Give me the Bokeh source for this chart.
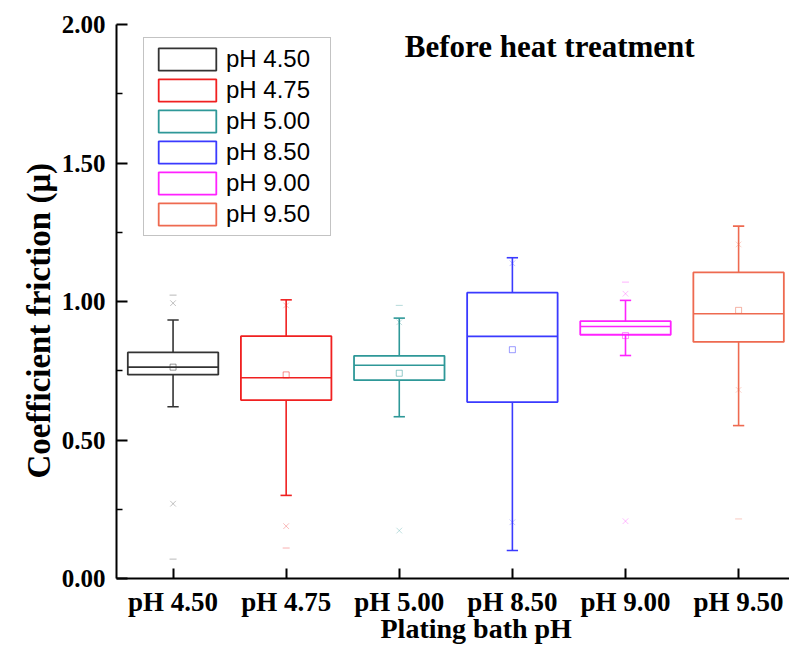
import math
from bokeh.plotting import figure
from bokeh.models import Legend, LegendItem, Label, Range1d, FixedTicker, ColumnDataSource, Title
from bokeh.embed import file_html
from bokeh.resources import INLINE

nan = float("nan")

categories = ["pH 4.50", "pH 4.75", "pH 5.00", "pH 8.50", "pH 9.00", "pH 9.50"]
colors = ["#333333", "#f02020", "#2e9898", "#3a3aff", "#ff22ff", "#ee6a50"]

whisker_hi = [0.933, 1.006, 0.940, 1.158, 1.004, 1.272]
q3 = [0.816, 0.875, 0.804, 1.032, 0.929, 1.105]
median = [0.763, 0.725, 0.770, 0.874, 0.910, 0.956]
q1 = [0.736, 0.644, 0.716, 0.637, 0.880, 0.854]
whisker_lo = [0.620, 0.300, 0.584, 0.101, 0.805, 0.552]
mean = [0.763, 0.735, 0.741, 0.826, 0.877, 0.968]
p99 = [0.994, 0.986, 0.925, 1.138, 1.028, 1.206]
p1 = [0.270, 0.189, 0.173, 0.203, 0.207, 0.681]
max_val = [1.023, nan, 0.986, nan, 1.070, nan]
min_val = [0.070, 0.110, nan, nan, nan, 0.215]

y_ticks = [0.0, 0.5, 1.0, 1.5, 2.0]
y_minor = [0.25, 0.75, 1.25, 1.75]

xs = [i + 1 for i in range(len(categories))]
box_w = 0.8
cap_w = 0.1

src = ColumnDataSource(dict(
    x=xs, cat=categories, color=colors,
    whi=whisker_hi, q3=q3, med=median, q1=q1, wlo=whisker_lo,
    mean=mean, p99=p99, p1=p1, mx=max_val, mn=min_val,
    bl=[x - box_w / 2 for x in xs], br=[x + box_w / 2 for x in xs],
    cl=[x - cap_w / 2 for x in xs], cr=[x + cap_w / 2 for x in xs],
))

p = figure(width=789, height=660, output_backend="svg", toolbar_location=None,
           x_range=Range1d(0.5, 6.45), y_range=Range1d(0, 2.0),
           min_border_left=116, min_border_right=0, min_border_top=24, min_border_bottom=82)
p.outline_line_color = None
p.xgrid.grid_line_color = None
p.ygrid.grid_line_color = None
p.background_fill_color = "white"
p.border_fill_color = "white"

# whiskers
p.segment(x0="x", y0="q3", x1="x", y1="whi", source=src, line_color="color", line_width=1.6)
p.segment(x0="x", y0="q1", x1="x", y1="wlo", source=src, line_color="color", line_width=1.6)
p.segment(x0="cl", y0="whi", x1="cr", y1="whi", source=src, line_color="color", line_width=1.6)
p.segment(x0="cl", y0="wlo", x1="cr", y1="wlo", source=src, line_color="color", line_width=1.6)

# boxes
boxes = p.vbar(x="x", width=box_w, top="q3", bottom="q1", source=src,
               fill_color="white", fill_alpha=0.0, line_color="color", line_width=1.8)
# median
p.segment(x0="bl", y0="med", x1="br", y1="med", source=src, line_color="color", line_width=1.6)

# mean
p.scatter(x="x", y="mean", source=src, marker="square", size=6, fill_color=None,
          line_color="color", line_alpha=0.5, line_width=1)
# 1% / 99%
p.scatter(x="x", y="p99", source=src, marker="x", size=8, line_color="color", line_alpha=0.3, line_width=1)
p.scatter(x="x", y="p1", source=src, marker="x", size=8, line_color="color", line_alpha=0.3, line_width=1)
# min / max
p.scatter(x="x", y="mx", source=src, marker="dash", size=7, line_color="color", line_alpha=0.35, line_width=1)
p.scatter(x="x", y="mn", source=src, marker="dash", size=7, line_color="color", line_alpha=0.35, line_width=1)

# axes
serif = "Liberation Serif"
for ax in (p.xaxis[0], p.yaxis[0]):
    ax.axis_line_width = 2
    ax.axis_line_color = "black"
    ax.major_tick_line_width = 2
    ax.minor_tick_line_width = 1.5
    ax.major_tick_line_color = "black"
    ax.minor_tick_line_color = "black"
    ax.major_tick_out = 0
    ax.minor_tick_out = 0
    ax.major_label_text_font = serif
    ax.major_label_text_font_style = "bold"
    ax.major_label_text_color = "black"

p.yaxis.ticker = FixedTicker(ticks=y_ticks, minor_ticks=y_minor)
p.yaxis.major_label_overrides = {t: f"{t:.2f}" for t in y_ticks}
p.yaxis.major_tick_in = 11
p.yaxis.minor_tick_in = 6
p.yaxis.major_label_standoff = 11
p.yaxis.major_label_text_font_size = "25px"

p.xaxis.ticker = FixedTicker(ticks=xs, minor_ticks=[])
p.xaxis.major_label_overrides = {x: c for x, c in zip(xs, categories)}
p.xaxis.major_tick_in = 10
p.xaxis.major_label_standoff = 8
p.xaxis.major_label_text_font_size = "27px"

# axis titles (placed as side titles so they can be offset like the reference)
ytitle = Title(text="Coefficient friction (μ)", align="left", offset=100, standoff=4,
               text_font=serif, text_font_style="bold", text_font_size="33px",
               text_color="black")
p.add_layout(ytitle, "left")

xtitle = Title(text="Plating bath pH", align="left", offset=264, standoff=-17,
               text_font=serif, text_font_style="bold", text_font_size="28px",
               text_color="black")
p.add_layout(xtitle, "below")

# legend
items = [LegendItem(label=c, renderers=[boxes], index=i) for i, c in enumerate(categories)]
legend = Legend(items=items, location=(27, 342),
                label_text_font="Liberation Sans", label_text_font_size="24px",
                label_text_color="black", label_width=97,
                glyph_width=72, glyph_height=28, spacing=3, padding=7,
                label_standoff=3, border_line_color="#888888", border_line_width=1,
                background_fill_alpha=1.0)
p.add_layout(legend, "center")

title = Label(x=4.33, y=1.92, text="Before heat treatment", text_font=serif,
              text_font_style="bold", text_font_size="31px", text_align="center",
              text_baseline="middle", text_color="black")
p.add_layout(title)

open("out.html", "w").write(file_html(p, INLINE))
